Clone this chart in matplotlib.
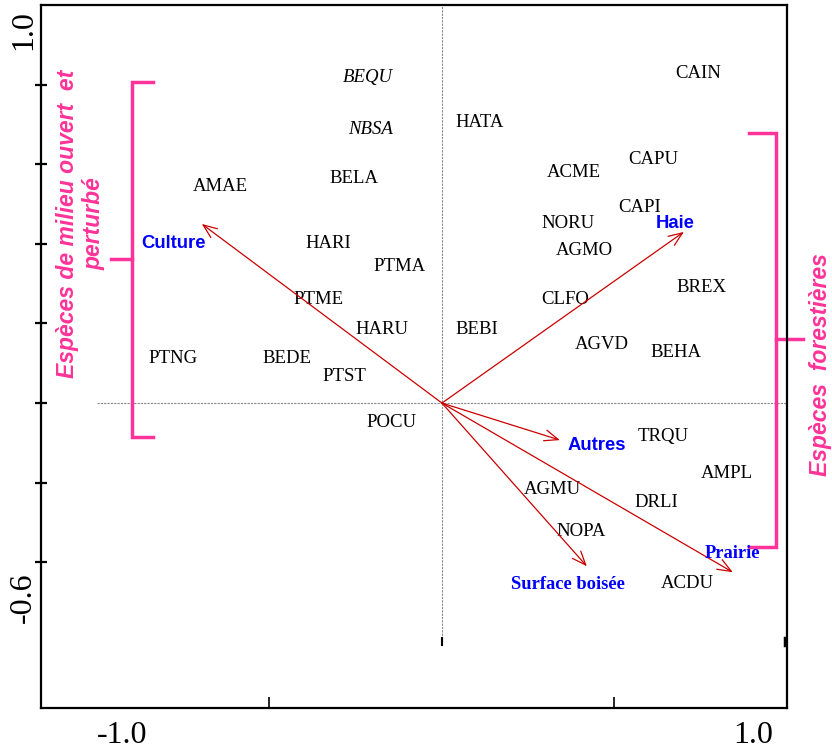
import matplotlib
matplotlib.use('Agg')
import matplotlib.pyplot as plt

# species scores (axis 1, axis 2)
species = ['BEQU', 'NBSA', 'BELA', 'AMAE', 'HARI', 'PTMA', 'PTME', 'HARU', 'PTNG', 'BEDE',
           'PTST', 'POCU', 'CAIN', 'HATA', 'CAPU', 'ACME', 'CAPI', 'NORU', 'AGMO', 'BREX',
           'CLFO', 'BEBI', 'AGVD', 'BEHA', 'TRQU', 'AMPL', 'AGMU', 'DRLI', 'NOPA', 'ACDU']
sp_x = [-0.214, -0.206, -0.255, -0.643, -0.330, -0.122, -0.359, -0.174, -0.780, -0.449,
        -0.284, -0.145, 0.742, 0.110, 0.612, 0.383, 0.574, 0.365, 0.414, 0.751,
        0.357, 0.101, 0.464, 0.678, 0.641, 0.826, 0.319, 0.620, 0.403, 0.710]
sp_y = [0.817, 0.688, 0.565, 0.545, 0.402, 0.344, 0.259, 0.186, 0.113, 0.111,
        0.068, -0.050, 0.827, 0.706, 0.611, 0.580, 0.492, 0.452, 0.384, 0.291,
        0.261, 0.186, 0.148, 0.128, -0.085, -0.178, -0.216, -0.251, -0.322, -0.452]
italic_species = ['BEQU', 'NBSA']

# environmental variables (arrow tips and label positions)
env = ['Culture', 'Haie', 'Autres', 'Prairie', 'Surface boisée']
env_x = [-0.696, 0.701, 0.342, 0.843, 0.420]
env_y = [0.450, 0.430, -0.093, -0.425, -0.410]
env_lab_x = [-0.777, 0.675, 0.449, 0.841, 0.365]
env_lab_y = [0.400, 0.452, -0.106, -0.377, -0.457]
env_serif = ['Prairie', 'Surface boisée']

PINK = '#FF3399'
RED = '#CC0000'
BLUE = '#0000FF'
SERIF = 'Liberation Serif'
SANS = 'Liberation Sans'


def main():
    fig = plt.figure(figsize=(8.32, 7.56), dpi=100)
    ax = fig.add_axes([0.04928, 0.06349, 0.89663, 0.92989])
    ax.set_xlim(-1.162, 1.0)
    ax.set_ylim(-0.766, 1.0)

    for s in ax.spines.values():
        s.set_linewidth(1.6)

    ax.set_xticks([-0.5, 0.5])
    ax.set_yticks([0.8, 0.6, 0.4, 0.2, 0.0, -0.2, -0.4])
    ax.tick_params(axis='x', direction='in', length=8, width=1.2, labelbottom=False)
    ax.tick_params(axis='y', direction='inout', length=8, width=1.6, labelleft=False)

    # dotted reference lines through the origin
    ax.plot([-1.0, 1.0], [0, 0], color='#888888', lw=0.8, ls=(0, (2, 1)))
    ax.plot([0, 0], [-0.6, 1.0], color='#888888', lw=0.8, ls=(0, (2, 1)))
    ax.plot([0, 0], [-0.59, -0.608], color='black', lw=1.5)
    ax.plot([0.993, 0.993], [-0.59, -0.608], color='black', lw=2.5)

    # axis range labels
    ax.text(-0.928, -0.834, '-1.0', family=SERIF, fontsize=23, ha='center', va='center', clip_on=False)
    ax.text(0.901, -0.834, '1.0', family=SERIF, fontsize=23, ha='center', va='center', clip_on=False)
    ax.text(-1.212, 0.937, '1.0', family=SERIF, fontsize=23, rotation=90, ha='center', va='center', clip_on=False)
    ax.text(-1.212, -0.490, '-0.6', family=SERIF, fontsize=23, rotation=90, ha='center', va='center', clip_on=False)

    # species
    for name, x, y in zip(species, sp_x, sp_y):
        style = 'italic' if name in italic_species else 'normal'
        ax.text(x, y, name, family=SERIF, fontsize=13.5, style=style, ha='center', va='center')

    # environmental arrows
    for name, x, y, lx, ly in zip(env, env_x, env_y, env_lab_x, env_lab_y):
        ax.annotate('', xy=(x, y), xytext=(0, 0),
                    arrowprops=dict(arrowstyle='->,head_length=0.55,head_width=0.22',
                                    color=RED, lw=0.9, mutation_scale=18,
                                    shrinkA=0, shrinkB=0))
        fam = SERIF if name in env_serif else SANS
        ax.text(lx, ly, name, family=fam, fontsize=13.3, fontweight='bold', color=BLUE,
                ha='center', va='center')

    # pink brackets
    ax.plot([-0.838, -0.899, -0.899, -0.838], [0.807, 0.807, -0.085, -0.085],
            color=PINK, lw=2.5, solid_joinstyle='miter', clip_on=False)
    ax.plot([-0.959, -0.899], [0.362, 0.362], color=PINK, lw=2.5, clip_on=False)
    ax.plot([0.890, 0.968, 0.968, 0.890], [0.678, 0.678, -0.362, -0.362],
            color=PINK, lw=2.5, solid_joinstyle='miter', clip_on=False)
    ax.plot([0.968, 1.046], [0.161, 0.161], color=PINK, lw=2.5, clip_on=False)

    ax.text(-1.047, 0.450, 'Espèces de milieu ouvert  et\nperturbé', family=SANS,
            fontsize=16.5, fontweight='bold', style='italic', color=PINK, rotation=90,
            ha='center', va='center', multialignment='center', linespacing=1.2,
            clip_on=False)
    ax.text(1.096, 0.098, 'Espèces  forestières', family=SANS, fontsize=16.5,
            fontweight='bold', style='italic', color=PINK, rotation=90,
            ha='center', va='center', clip_on=False)

    fig.savefig('out.png', dpi=100)


if __name__ == '__main__':
    main()
